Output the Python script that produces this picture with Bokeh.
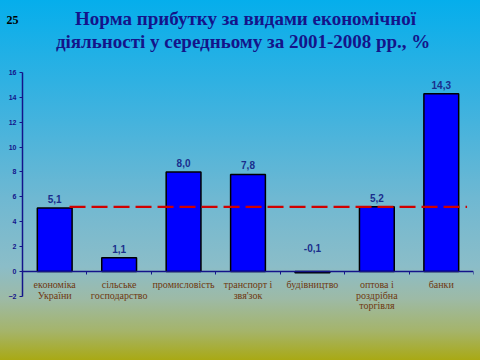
import numpy as np
from bokeh.plotting import figure
from bokeh.layouts import column
from bokeh.models import Range1d, FixedTicker, Label, ColumnDataSource
from bokeh.core.properties import value
from bokeh.embed import file_html
from bokeh.resources import INLINE

# ---- data ----
categories = ["економіка\nУкраїни", "сільське\nгосподарство", "промисловість",
              "транспорт і\nзвя'зок", "будівництво", "оптова і\nроздрібна\nторгівля", "банки"]
values = [5.1, 1.1, 8.0, 7.8, -0.1, 5.2, 14.3]
value_labels = ["5,1", "1,1", "8,0", "7,8", "-0,1", "5,2", "14,3"]
average = 5.2
y_ticks = [-2, 0, 2, 4, 6, 8, 10, 12, 14, 16]
title_line1 = "Норма прибутку за видами економічної"
title_line2 = "діяльності  у середньому за 2001-2008 рр., %"
slide_number = "25"

# ---- derived ----
n = len(categories)
centers = np.arange(n) + 0.5
boundaries = list(np.arange(1, n + 1).astype(float))
vals = np.array(values)
label_y = np.maximum(vals, 0)
label_off = np.where(vals >= 0, -9, -23)

src = ColumnDataSource(dict(x=centers, top=vals, lab=value_labels, ly=label_y, off=label_off))

# ---- header (title + slide number) ----
hdr = figure(width=480, height=64, output_backend="svg", toolbar_location=None,
             x_axis_type=None, y_axis_type=None,
             x_range=Range1d(0, 480), y_range=Range1d(0, 64),
             min_border=0)
hdr.frame_align = False
hdr.background_fill_color = None
hdr.border_fill_color = None
hdr.outline_line_color = None
hdr.xgrid.visible = False
hdr.ygrid.visible = False
for txt, yy in [(title_line1, 46), (title_line2, 23)]:
    hdr.add_layout(Label(x=245, y=yy, x_units="screen", y_units="screen", text=txt,
                         text_align="center", text_baseline="alphabetic",
                         text_font="Liberation Serif", text_font_style="bold",
                         text_font_size="19px", text_color="#14148A"))
hdr.add_layout(Label(x=6, y=45, x_units="screen", y_units="screen", text=slide_number,
                     text_align="left", text_baseline="alphabetic",
                     text_font="Liberation Serif", text_font_style="bold",
                     text_font_size="12px", text_color="#000000"))

# ---- chart ----
p = figure(width=480, height=296, output_backend="svg", toolbar_location=None,
           x_range=Range1d(0, n), y_range=Range1d(-3.3, y_ticks[-1]),
           min_border_top=8, min_border_bottom=48, min_border_left=22, min_border_right=7)
p.background_fill_color = None
p.border_fill_color = None
p.outline_line_color = None
p.xgrid.visible = False
p.ygrid.visible = False

# bars
p.vbar(x="x", top="top", bottom=0, width=0.54, source=src,
       fill_color="#0000FF", line_color="#000000", line_width=1.5)

# average dashed line
p.segment(x0=[0.73], x1=[6.9], y0=[average], y1=[average],
          line_color="#D00000", line_width=2.2, line_dash="16 6")

# value labels
p.text(x="x", y="ly", text="lab", source=src, y_offset="off",
       text_align="center", text_baseline="alphabetic",
       text_font=value("Liberation Sans"), text_font_style="bold",
       text_font_size="10px", text_color="#1A2E8C")

# axes
navy = "#14148A"
xa = p.xaxis[0]
xa.fixed_location = 0
xa.ticker = FixedTicker(ticks=list(centers), minor_ticks=boundaries)
xa.major_label_overrides = {float(c): lab for c, lab in zip(centers, categories)}
xa.major_tick_line_color = None
xa.minor_tick_line_color = navy
xa.minor_tick_in = 0
xa.minor_tick_out = 3
xa.axis_line_color = navy
xa.axis_line_width = 1.5
xa.major_label_standoff = 2
xa.major_label_text_font = "Liberation Serif"
xa.major_label_text_font_size = "10px"
xa.major_label_text_color = "#6E3810"
xa.major_label_text_line_height = 0.95

ya = p.yaxis[0]
ya.ticker = FixedTicker(ticks=y_ticks)
ya.bounds = (y_ticks[0], y_ticks[-1])
ya.minor_tick_line_color = None
ya.major_tick_in = 0
ya.major_tick_out = 3
ya.major_tick_line_color = navy
ya.axis_line_color = navy
ya.axis_line_width = 1.5
ya.major_label_standoff = 3
ya.major_label_text_font = "Liberation Sans"
ya.major_label_text_font_style = "bold"
ya.major_label_text_font_size = "7px"
ya.major_label_text_color = navy

page = column(hdr, p, spacing=0)
page.styles = {"background": "linear-gradient(to bottom, #05AEEC 0%, #3DB2DF 30%, #6FB8D2 55%, #8BBDC8 74%, #9DBAA6 83%, #A5B46A 92%, #A9A914 100%)"}

open("out.html", "w").write(file_html(page, INLINE))
